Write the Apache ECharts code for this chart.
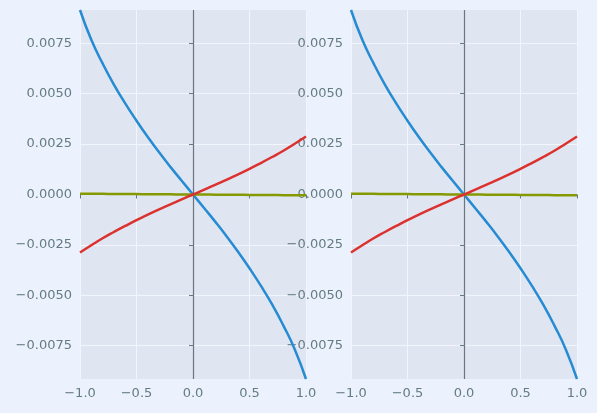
<!DOCTYPE html>
<html>
<head>
<meta charset="utf-8">
<script src="https://cdn.jsdelivr.net/npm/echarts@6/dist/echarts.min.js"></script>
<style>
  html, body { margin: 0; padding: 0; background: #ebf2fd; }
  #chart { width: 597px; height: 413px; }
</style>
</head>
<body>
<div id="chart"></div>
<script>
  // x positions shared by both panels
  var xs = [-1.0, -0.9, -0.8, -0.7, -0.6, -0.5, -0.4, -0.3, -0.2, -0.1, 0.0,
            0.1, 0.2, 0.3, 0.4, 0.5, 0.6, 0.7, 0.8, 0.9, 1.0];
  var blueVals = [0.00915, 0.00767, 0.0065, 0.00545, 0.00452, 0.00366, 0.00285, 0.00209, 0.00137, 0.00068, 0,
                  -0.00068, -0.00137, -0.00209, -0.00285, -0.00366, -0.00452, -0.00545, -0.0065, -0.00767, -0.00915];
  var redVals = [-0.00288, -0.00252, -0.00217, -0.00186, -0.00156, -0.00127, -0.001, -0.00074, -0.00049, -0.00024, 0,
                 0.00024, 0.00049, 0.00074, 0.001, 0.00127, 0.00156, 0.00186, 0.00217, 0.00252, 0.00288];
  var greenVals = [0.00004, 0.000036, 0.000032, 0.000028, 0.000024, 0.00002, 0.000016, 0.000012, 0.000008, 0.000004, 0,
                   -0.000004, -0.000008, -0.000012, -0.000016, -0.00002, -0.000024, -0.000028, -0.000032, -0.000036, -0.00004];
  var yTicks = [-0.0075, -0.005, -0.0025, 0, 0.0025, 0.005, 0.0075];
  var yLimit = 0.00915;

  var textColor = '#657b83';

  function fmt(v, d) {
    var s = Math.abs(v).toFixed(d);
    return (v < 0 ? '\u2212' : '') + s;
  }
  function pairs(vals) {
    return xs.map(function (x, i) { return [x, vals[i]]; });
  }

  var grids = [
    { left: 80, top: 10, width: 226, height: 369 },
    { left: 351, top: 10, width: 226, height: 369 }
  ];
  var xAxes = [], yAxes = [], series = [];
  grids.forEach(function (g, k) {
    g.backgroundColor = '#e0e6f1';
    g.show = true;
    g.borderWidth = 0;
    xAxes.push({
      type: 'value', gridIndex: k, min: -1, max: 1, interval: 0.5,
      axisLine: { show: false },
      axisTick: { show: true, length: 4, lineStyle: { color: textColor } },
      axisLabel: { color: textColor, fontSize: 13, fontFamily: 'DejaVu Sans', margin: 8,
                   formatter: function (v) { return fmt(v, 1); } },
      splitLine: { show: true, lineStyle: { color: '#f2f5fb', width: 1 } }
    });
    yAxes.push({
      type: 'value', gridIndex: k, min: -yLimit, max: yLimit,
      axisLine: { show: false },
      axisTick: { show: true, length: 4, customValues: yTicks, lineStyle: { color: textColor } },
      axisLabel: { color: textColor, fontSize: 13, fontFamily: 'DejaVu Sans', margin: 8,
                   customValues: yTicks,
                   formatter: function (v) { return fmt(v, 4); } },
      splitLine: { show: true, lineStyle: { color: '#f2f5fb', width: 1 } }
    });
    // 蓝线 + x=0 竖线
    series.push({
      type: 'line', xAxisIndex: k, yAxisIndex: k, data: pairs(blueVals), smooth: true,
      showSymbol: false, lineStyle: { color: '#268bd2', width: 2.5 }, z: 3,
      markLine: {
        silent: true, symbol: 'none', label: { show: false },
        lineStyle: { color: '#6b767d', width: 1.2, type: 'solid' },
        data: [{ xAxis: 0 }]
      }
    });
    series.push({
      type: 'line', xAxisIndex: k, yAxisIndex: k, data: pairs(greenVals), smooth: true,
      showSymbol: false, lineStyle: { color: '#859900', width: 2.5 }, z: 4
    });
    series.push({
      type: 'line', xAxisIndex: k, yAxisIndex: k, data: pairs(redVals), smooth: true,
      showSymbol: false, lineStyle: { color: '#dc322f', width: 2.5 }, z: 5
    });
  });

  var myChart = echarts.init(document.getElementById('chart'));
  var option = {
    backgroundColor: '#ebf2fd',
    animation: false,
    grid: grids,
    xAxis: xAxes,
    yAxis: yAxes,
    series: series
  };
  myChart.setOption(option);
</script>
</body>
</html>
